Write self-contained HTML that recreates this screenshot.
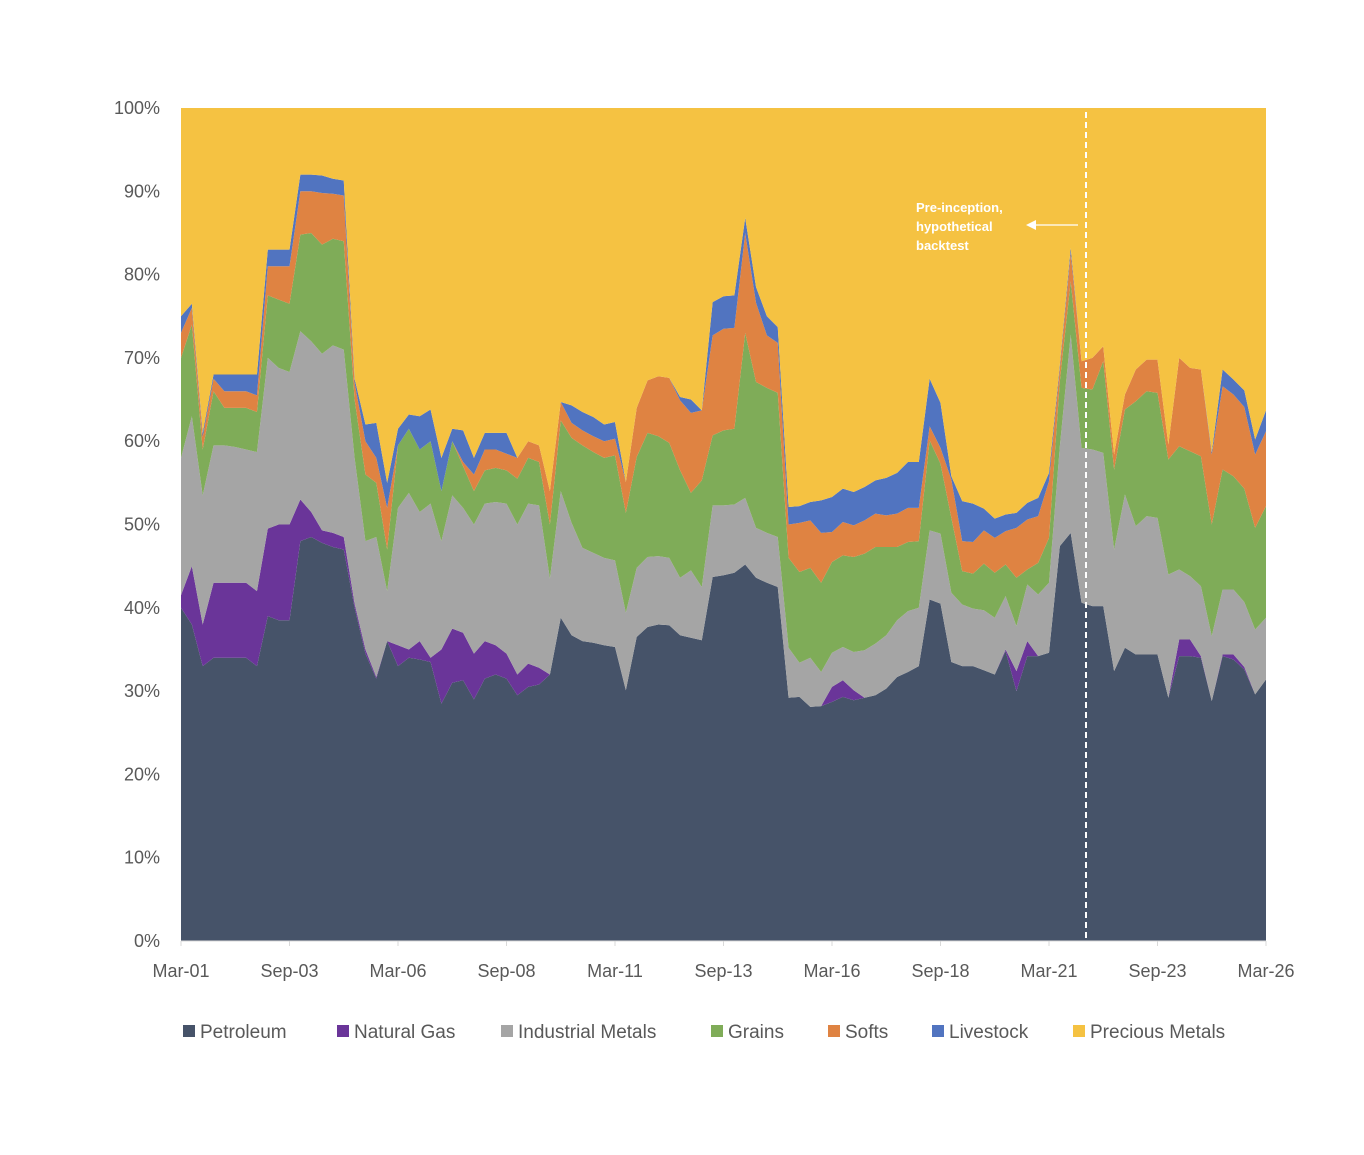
<!DOCTYPE html>
<html><head><meta charset="utf-8"><style>
body{margin:0;background:#fff;font-family:"Liberation Sans",sans-serif}
svg text{font-family:"Liberation Sans",sans-serif}
</style></head><body>
<svg id="chart" width="1364" height="1150" xmlns="http://www.w3.org/2000/svg">
<g id="plot"></g>
<g id="axes"></g>
<g id="legend"></g>
</svg>
<script>
const xTickLabels=["Mar-01","Sep-03","Mar-06","Sep-08","Mar-11","Sep-13","Mar-16","Sep-18","Mar-21","Sep-23","Mar-26"];
const yTickLabels=["0%","10%","20%","30%","40%","50%","60%","70%","80%","90%","100%"];
const seriesNames=["Petroleum","Natural Gas","Industrial Metals","Grains","Softs","Livestock","Precious Metals"];
const petroleum=[40,38,33,34,34,34,34,33,39,38.5,38.5,48,48.5,47.8,47.3,47,40,34.5,31.5,36,33,34,33.8,33.5,28.5,31,31.3,29,31.5,32,31.5,29.5,30.5,30.8,32,38.8,36.7,36,35.8,35.5,35.3,30.1,36.5,37.7,38,37.9,36.7,36.4,36.1,43.7,43.9,44.2,45.2,43.6,43,42.5,29.2,29.3,28.1,28.2,28.7,29.3,28.9,29.2,29.5,30.3,31.7,32.3,33,41,40.5,33.5,33,33,32.5,32,34.8,30,34.2,34.2,34.6,47.4,49,40.6,40.2,40.2,32.4,35.2,34.4,34.4,34.4,29.2,34.2,34.2,34,28.8,34.2,33.8,32.6,29.6,31.4];
const naturalGas=[1.5,7,5,9,9,9,9,9,10.5,11.5,11.5,5,3,1.5,1.7,1.5,0.5,0.5,0.2,0,2.5,1,2.2,0.5,6.5,6.5,5.7,5.5,4.5,3.5,3,2.5,2.8,2,0,0,0,0,0,0,0,0,0,0,0,0,0,0,0,0,0,0,0,0,0,0,0,0,0,0,1.8,2,1.2,0,0,0,0,0,0,0,0,0,0,0,0,0,0.2,2.4,1.8,0,0,0,0,0,0,0,0,0,0,0,0,0,2,2,0.2,0,0.2,0.6,0.3,0,0];
const industrialMetals=[16.5,18,15.5,16.5,16.5,16.3,16,16.7,20.5,18.8,18.3,20.2,20.5,21.2,22.5,22.5,17.5,13,16.8,6,16.5,18.8,15.5,18.5,13,16,15,15.5,16.5,17.2,18,18,19.2,19.5,11.5,15.2,13.5,11.2,10.8,10.5,10.4,9.3,8.3,8.4,8.2,8.1,6.9,8.1,6.4,8.6,8.4,8.2,8,6,6,6,6,4.1,5.9,4.1,4.1,4,4.6,5.7,6.2,6.4,6.8,7.3,7,8.3,8.4,8.3,7.4,6.9,7.2,6.8,6.4,5.4,6.8,7.4,8.4,12,23.8,18.6,18.8,18.4,14.6,18.4,15.4,16.6,16.4,14.8,8.4,7.6,8.4,7.8,7.8,7.8,7.8,7.8,7.4];
const grains=[12,11,5.5,6.5,4.5,4.7,5,4.8,7.5,8.2,8.2,11.6,13,13.1,12.8,13,7,8,6.5,5,7.5,7.7,7.5,7.5,6,6.5,5,4,4,4.1,4,5.5,5.5,5.2,6.5,8.5,10.2,12.3,12.1,12,12.6,12,13.3,14.9,14.4,13.8,12.9,9.3,12.8,8.4,9,9.1,19.8,17.5,17.4,17.3,10.8,10.9,10.8,10.7,10.9,11,11.4,11.6,11.6,10.6,8.8,8.3,8,10.8,8.4,9,4,4.2,5.6,5.4,3.8,5.8,1.8,3.8,5.4,7.8,6.4,7.2,7.2,11,9.6,10.2,15,15,15,13.8,14.8,15,15.6,13.4,14.4,13.6,13.6,12.2,13.4];
const softs=[3,2,1.5,1.5,2,2,2,2,3.5,4,4.5,5.2,5,6.2,5.4,5.5,2,4,3,5,0,0,0,0,0,0,0.5,2,2.5,2.2,2,2.5,2,2,4,2.2,1.8,1.8,1.9,2,2,3.7,5.9,6.3,7.2,7.8,8.4,9.6,8.4,12,12.2,12.1,12,9.5,6.3,6,4,5.9,5.7,6,3.6,4,3.8,4,4,3.8,4,4.1,4,1.7,1.9,4.6,3.6,3.8,4,4.2,4,6,6,5.6,6.8,1.6,3.4,3.2,3.8,1.8,1.8,1.8,3.8,3.8,4,1.8,10.6,10,10.4,8.4,10,9.8,9.8,8.8,9];
const livestock=[2,0.5,0.5,0.5,2,2,2,2.5,2,2,2,2,2,2.1,1.8,1.8,0.5,2,4.2,3,2,1.7,4,3.8,4,1.5,3.8,2,2,2,2.5,0,0,0,0,0,2.1,2.2,2.3,2,2,0,0,0,0,0,0.4,1.6,0,4,3.9,3.9,1.8,1.9,2.3,1.9,2.1,2,2.2,3.9,4.2,4,4,4,4,4.5,4.9,5.5,5.5,5.7,5.4,0.4,4.8,4.6,2.6,2.3,2,1.8,2,2.2,1,0.4,0.6,0,0,0,0,0,0,0,0,0,0,0,0,0.3,2,1.8,2,1.8,2.5];
const preciousMetals=petroleum.map((v,i)=>100-v-naturalGas[i]-industrialMetals[i]-grains[i]-softs[i]-livestock[i]);
const series=[petroleum,naturalGas,industrialMetals,grains,softs,livestock,preciousMetals];
const colors=["#465369","#6a3599","#a5a5a5","#7fac58","#df8342","#5174c0","#f5c242"];
const X0=181,X1=1266,Y0=941,Y1=108;
const xs=i=>X0+(X1-X0)*i/(petroleum.length-1);
const ys=v=>Y0-(Y0-Y1)*v/100;
const NS="http://www.w3.org/2000/svg";
function mk(tag,attrs,parent){const e=document.createElementNS(NS,tag);for(const k in attrs)e.setAttribute(k,attrs[k]);parent.appendChild(e);return e;}
const plot=document.getElementById('plot');
let base=petroleum.map(()=>0);
series.forEach((s,k)=>{
  const top=base.map((b,i)=>b+s[i]);
  let d="M"+top.map((v,i)=>xs(i).toFixed(2)+","+ys(v).toFixed(2)).join("L");
  for(let i=base.length-1;i>=0;i--)d+="L"+xs(i).toFixed(2)+","+ys(base[i]).toFixed(2);
  const p=mk('path',{d:d+"Z",fill:colors[k]},plot);
  
  
  base=top;
});
const axes=document.getElementById('axes');
const ax=mk('line',{x1:X0,x2:X1,y1:Y0,y2:Y0,stroke:"#d9d9d9","stroke-width":1},axes);


yTickLabels.forEach((t,i)=>{
  const e=mk('text',{x:160,y:ys(i*10)+6,"text-anchor":"end","font-size":"18",fill:"#595959"},axes);
  e.textContent=t;
  
  
});
xTickLabels.forEach((t,i)=>{
  const x=X0+(X1-X0)*i/(xTickLabels.length-1);
  const tk=mk('line',{x1:x,x2:x,y1:Y0,y2:Y0+5,stroke:"#d9d9d9"},axes);
  
  
  const e=mk('text',{x:x,y:977,"text-anchor":"middle","font-size":"18",fill:"#595959"},axes);
  e.textContent=t;
  
  
});
const dl=mk('line',{x1:1086,x2:1086,y1:112,y2:941,stroke:"#fff","stroke-width":2,"stroke-dasharray":"6,4"},axes);


const ar=mk('line',{x1:1078,x2:1034,y1:225,y2:225,stroke:"#fff","stroke-width":1.2},axes);


const ah=mk('polygon',{points:"1026,225 1036,220 1036,230",fill:"#fff"},axes);


["Pre-inception,","hypothetical","backtest"].forEach((t,i)=>{
  const e=mk('text',{x:916,y:212+i*19,"font-size":"13","font-weight":"bold",fill:"#fff"},axes);
  e.textContent=t;
  
  
});
const legend=document.getElementById('legend');
const lx=[183,337,501,711,828,932,1073];
seriesNames.forEach((n,k)=>{
  const g=mk('g',{},legend);
  
  
  mk('rect',{x:lx[k],y:1025,width:12,height:12,fill:colors[k]},g);
  const t=mk('text',{x:lx[k]+17,y:1038,"font-size":"19",fill:"#595959"},g);
  t.textContent=n;
});
</script>
</body></html>
